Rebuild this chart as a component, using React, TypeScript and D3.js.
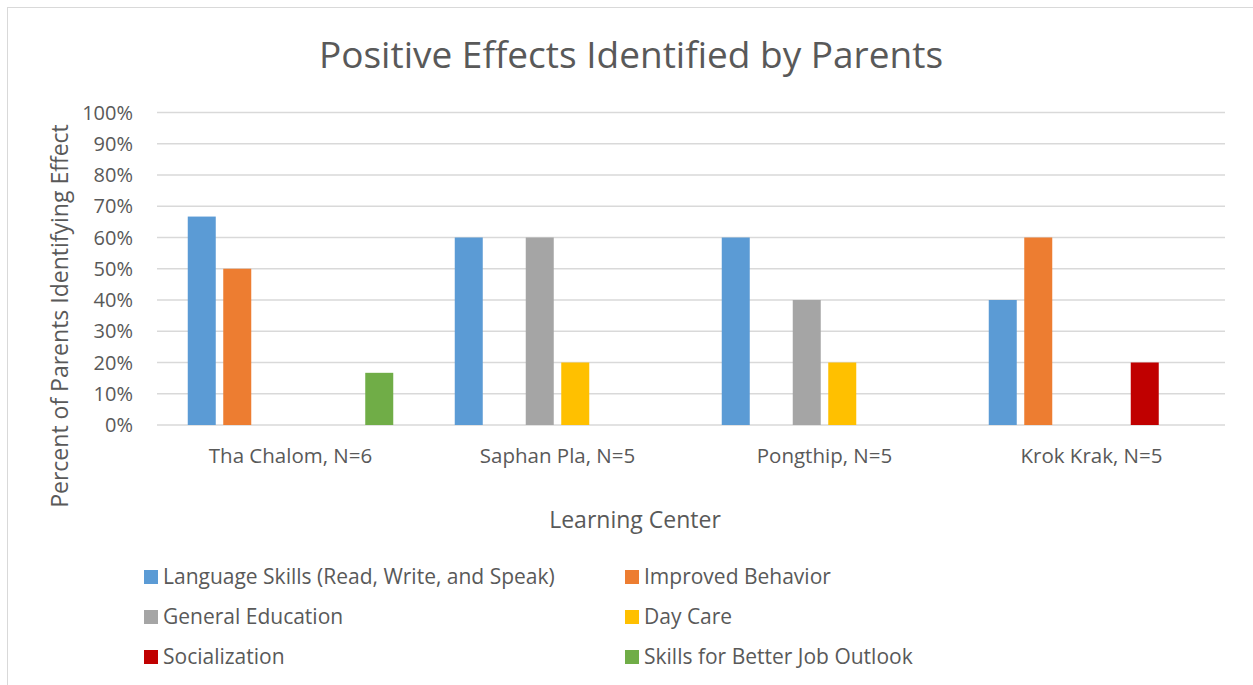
import React from "react";
import * as d3 from "d3";

const categories = ["Tha Chalom, N=6", "Saphan Pla, N=5", "Pongthip, N=5", "Krok Krak, N=5"];
const seriesNames = [
  "Language Skills (Read, Write, and Speak)",
  "Improved Behavior",
  "General Education",
  "Day Care",
  "Socialization",
  "Skills for Better Job Outlook",
];
const seriesColors = ["#5B9BD5", "#ED7D31", "#A5A5A5", "#FFC000", "#C00000", "#70AD47"];
// values per series, in category order (fraction)
const languageSkills = [0.667, 0.6, 0.6, 0.4];
const improvedBehavior = [0.5, 0, 0, 0.6];
const generalEducation = [0, 0.6, 0.4, 0];
const dayCare = [0, 0.2, 0.2, 0];
const socialization = [0, 0, 0, 0.2];
const jobSkills = [0.167, 0, 0, 0];
const seriesValues = [languageSkills, improvedBehavior, generalEducation, dayCare, socialization, jobSkills];
const yTicks = [0, 0.1, 0.2, 0.3, 0.4, 0.5, 0.6, 0.7, 0.8, 0.9, 1.0];

const FONT = "'Open Sans', sans-serif";
const TEXT = "#595959";

export default function App() {
  const W = 1253, H = 685;
  const plot = { left: 157, right: 1225, top: 112.5, bottom: 425 };
  const x0 = d3.scaleBand<string>().domain(categories).range([plot.left, plot.right]).padding(0);
  const gw = x0.bandwidth();
  const outer = 30.75;
  const x1 = d3
    .scaleBand<string>()
    .domain(seriesNames)
    .range([outer, gw - outer])
    .paddingInner(0.2113)
    .paddingOuter(0);
  const y = d3.scaleLinear().domain([0, 1]).range([plot.bottom, plot.top]);
  const fmt = d3.format(".0%");

  const legendCols = [144, 625];
  const legendRows = [570, 610, 650];

  return (
    <svg width={W} height={H} style={{ position: "absolute", left: 0, top: 0, background: "#fff" }} fontFamily={FONT}>
      <rect x={7.5} y={7.5} width={W + 20} height={H + 20} fill="#fff" stroke="#D9D9D9" strokeWidth={1} />
      <text x={631} y={68} textAnchor="middle" fontSize={37} fill={TEXT}>
        Positive Effects Identified by Parents
      </text>
      {yTicks.map((t) => (
        <g key={t}>
          <line x1={plot.left} x2={plot.right} y1={y(t)} y2={y(t)} stroke="#D9D9D9" strokeWidth={1.3} />
          <text x={133} y={y(t) + 7} textAnchor="end" fontSize={20} fill={TEXT}>
            {fmt(t)}
          </text>
        </g>
      ))}
      {categories.map((c, ci) => (
        <g key={c} transform={`translate(${x0(c)},0)`}>
          {seriesNames.map((s, si) => {
            const v = seriesValues[si][ci];
            if (!v) return null;
            return (
              <rect
                key={s}
                x={x1(s)}
                width={x1.bandwidth()}
                y={y(v)}
                height={y(0) - y(v)}
                fill={seriesColors[si]}
              />
            );
          })}
          <text x={gw / 2} y={463} textAnchor="middle" fontSize={20.5} fill={TEXT}>
            {c}
          </text>
        </g>
      ))}
      <text x={635} y={528} textAnchor="middle" fontSize={23} fill={TEXT}>
        Learning Center
      </text>
      <text transform="translate(68,316) rotate(-90)" textAnchor="middle" fontSize={23} fill={TEXT}>
        Percent of Parents Identifying Effect
      </text>
      {seriesNames.map((s, i) => {
        const col = i % 2;
        const row = Math.floor(i / 2);
        const lx = legendCols[col];
        const ly = legendRows[row];
        return (
          <g key={s}>
            <rect x={lx} y={ly} width={14} height={14} fill={seriesColors[i]} />
            <text x={lx + 19} y={ly + 14} fontSize={21} fill={TEXT}>
              {s}
            </text>
          </g>
        );
      })}
    </svg>
  );
}
